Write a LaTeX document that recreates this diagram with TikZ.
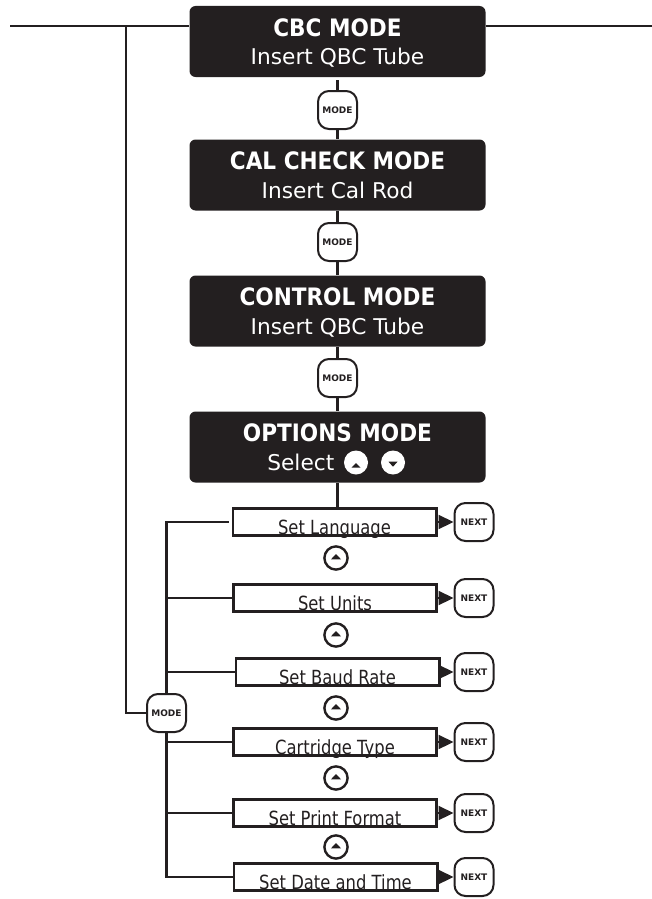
\documentclass[tikz,border=0pt]{standalone}
\usepackage{fontspec}
\setmainfont{DejaVu Sans}
\newfontfamily\titlefont[FakeStretch=0.9]{DejaVu Sans}
\newfontfamily\itemfont[FakeStretch=0.84]{DejaVu Sans}
\usetikzlibrary{arrows.meta,calc}
\definecolor{ink}{HTML}{231F20}
\begin{document}
\begin{tikzpicture}[x=1pt,y=-1pt,
  modebox/.style={fill=ink, rounded corners=6pt, minimum width=296pt, minimum height=71pt, inner sep=0pt},
  titletext/.style={text=white, font=\titlefont\bfseries\fontsize{24}{24}\selectfont, anchor=base, inner sep=0pt},
  subtext/.style={text=white, font=\fontsize{21.7}{22}\selectfont, anchor=base, inner sep=0pt},
  btn/.style={draw=ink, line width=2pt, rounded corners=11pt, minimum width=39pt, minimum height=38pt, inner sep=0pt, font=\bfseries\fontsize{9}{9}\selectfont, text=ink, fill=white},
  itembox/.style={draw=ink, line width=2.6pt, minimum width=203.4pt, minimum height=27.4pt, inner sep=0pt},
  itemtext/.style={font=\itemfont\fontsize{19.5}{20}\selectfont, anchor=base, inner sep=0pt, text=ink},
  conn/.style={draw=ink, line width=2.2pt},
  upkey/.style={circle, draw=ink, line width=2.4pt, minimum size=23.2pt, inner sep=0pt},
  selkey/.style={circle, fill=white, minimum size=24pt, inner sep=0pt},
  nextarrow/.style={conn, -{Triangle[length=15pt,width=14pt]}},
]
\useasboundingbox (0,0) rectangle (652,899);

% mode boxes
\node[modebox] (cbc) at (337.5,41.5) {};
\node[modebox] (cal) at (337.5,175) {};
\node[modebox] (ctl) at (337.5,311) {};
\node[modebox] (opt) at (337.5,447) {};

\node[titletext] (cbct) at ([yshift=-30.5pt]cbc.north) {CBC MODE};
\node[subtext] (cbcs) at ([yshift=-59pt]cbc.north) {Insert QBC Tube};
\node[titletext] (calt) at ([yshift=-30.5pt]cal.north) {CAL CHECK MODE};
\node[subtext] (cals) at ([yshift=-59pt]cal.north) {Insert Cal Rod};
\node[titletext] (ctlt) at ([yshift=-30.5pt]ctl.north) {CONTROL MODE};
\node[subtext] (ctls) at ([yshift=-59pt]ctl.north) {Insert QBC Tube};
\node[titletext] (optt) at ([yshift=-30.5pt]opt.north) {OPTIONS MODE};
\node[subtext, anchor=base east] (sel) at ([xshift=-3pt,yshift=-59pt]opt.north) {Select};
\node[selkey] (su) at (356,462.5) {};
\node[selkey] (sd) at (393,462.5) {};
\fill[ink] (su.center) ++(-4.5,5.2) -- ++(9,0) -- ++(-4.5,-4.7) -- cycle;
\fill[ink] (sd.center) ++(-4.5,-0.8) -- ++(9,0) -- ++(-4.5,5) -- cycle;

% mode buttons
\node[btn] (m1) at (337.5,110) {MODE};
\node[btn] (m2) at (337.5,242) {MODE};
\node[btn] (m3) at (337.5,378) {MODE};
\node[btn] (m4) at (166.5,713) {MODE};

\draw[conn, shorten <=3pt] (cbc.south) -- (m1.north);
\draw[conn] (m1.south) -- (cal.north);
\draw[conn] (cal.south) -- (m2.north);
\draw[conn] (m2.south) -- (ctl.north);
\draw[conn] (ctl.south) -- (m3.north);
\draw[conn] (m3.south) -- (opt.north);

% option items
\node[itembox] (i1) at (334.5,522) {};
\node[itembox] (i2) at (335,598) {};
\node[itembox] (i3) at (337.5,672) {};
\node[itembox] (i4) at (335,742) {};
\node[itembox] (i5) at (335,813) {};
\node[itembox] (i6) at (335.5,877) {};

\node[itemtext] (i1t) at ([yshift=3pt]i1.south) {Set Language};
\node[itemtext] (i2t) at ([yshift=3pt]i2.south) {Set Units};
\node[itemtext] (i3t) at ([yshift=3pt]i3.south) {Set Baud Rate};
\node[itemtext] (i4t) at ([yshift=3pt]i4.south) {Cartridge Type};
\node[itemtext] (i5t) at ([yshift=3pt]i5.south) {Set Print Format};
\node[itemtext] (i6t) at ([yshift=3pt]i6.south) {Set Date and Time};

\draw[conn] (opt.south) -- (opt.south |- i1.north);

% up keys
\node[upkey] (u1) at (336,558) {};
\node[upkey] (u2) at (336,635) {};
\node[upkey] (u3) at (336,708) {};
\node[upkey] (u4) at (336,778) {};
\node[upkey] (u5) at (336,847) {};
\foreach \u in {u1,u2,u3,u4,u5}{
  \fill[ink] (\u.center) ++(-5,1.3) -- ++(10,0) -- ++(-5,-5.3) -- cycle;
}

% next keys
\node[btn] (n1) at (474,522) {NEXT};
\node[btn] (n2) at (474,598) {NEXT};
\node[btn] (n3) at (474,672) {NEXT};
\node[btn] (n4) at (474,742) {NEXT};
\node[btn] (n5) at (474,813) {NEXT};
\node[btn] (n6) at (474,877) {NEXT};
\draw[nextarrow] (i1.east) -- (n1.west);
\draw[nextarrow] (i2.east) -- (n2.west);
\draw[nextarrow] (i3.east) -- (n3.west);
\draw[nextarrow] (i4.east) -- (n4.west);
\draw[nextarrow] (i5.east) -- (n5.west);
\draw[nextarrow] (i6.east) -- (n6.west);

% top line and left return
\coordinate (tl) at (10,26);
\coordinate (tr) at (652,26);
\coordinate (lc) at (126,26);
\draw[conn] (tl) -- (tl -| cbc.west);
\draw[conn] (cbc.east |- tr) -- (tr);
\draw[conn] (lc) |- (m4.west);

% bracket
\draw[conn] (m4.north) -- (m4.north |- i1.west) -- ([xshift=-3pt]i1.west);
\draw[conn] (m4.north |- i2.west) -- (i2.west);
\draw[conn] (m4.north |- i3.west) -- (i3.west);
\draw[conn] (m4.south) -- (m4.south |- i6.west) -- (i6.west);
\draw[conn] (m4.south |- i4.west) -- (i4.west);
\draw[conn] (m4.south |- i5.west) -- (i5.west);
\end{tikzpicture}
\end{document}
